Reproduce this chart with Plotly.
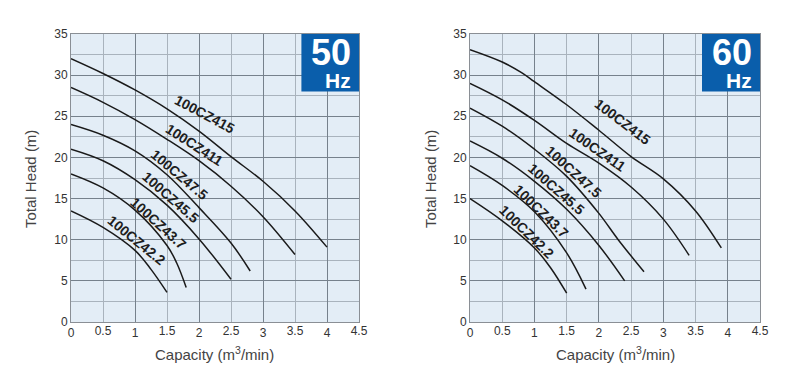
import math
import plotly.graph_objects as go

# ---------------- data ----------------
models = ["100CZ415", "100CZ411", "100CZ47.5", "100CZ45.5", "100CZ43.7", "100CZ42.2"]

# 50 Hz
q415_50 = [0, 0.5, 1, 1.5, 2, 2.5, 3, 3.5, 4]
h415_50 = [32, 30.2, 28.2, 25.9, 23.2, 20.1, 17.1, 13.5, 9.1]
q411_50 = [0, 0.5, 1, 1.5, 2, 2.5, 3, 3.5]
h411_50 = [28.5, 26.7, 24.6, 22.2, 19.6, 16.5, 12.8, 8.2]
q475_50 = [0, 0.5, 1, 1.5, 2, 2.5, 2.8]
h475_50 = [24, 22.7, 20.8, 17.9, 13.9, 9.6, 6.2]
q455_50 = [0, 0.5, 1, 1.5, 2, 2.5]
h455_50 = [21, 19.6, 17.3, 14.2, 10.1, 5.2]
q437_50 = [0, 0.5, 1, 1.5, 1.65, 1.8]
h437_50 = [18, 16.3, 13.6, 9.3, 7.2, 4.2]
q422_50 = [0, 0.5, 1, 1.25, 1.5]
h422_50 = [13.5, 11.5, 8.7, 6.4, 3.6]

# 60 Hz
q415_60 = [0, 0.5, 0.8, 1, 1.5, 2, 2.5, 3, 3.5, 3.9]
h415_60 = [33.1, 31.6, 30.3, 29.2, 26.4, 23.3, 20.1, 17.4, 13.5, 9.0]
q411_60 = [0, 0.5, 1, 1.5, 2, 2.5, 3, 3.4]
h411_60 = [29, 27, 24.5, 21.7, 19.3, 16.4, 12.5, 8.1]
q475_60 = [0, 0.5, 1, 1.5, 2, 2.3, 2.7]
h475_60 = [26, 23.8, 21, 17.7, 13.2, 10.0, 6.1]
q455_60 = [0, 0.5, 1, 1.5, 2, 2.4]
h455_60 = [22, 19.9, 17.1, 13.7, 9.3, 5.0]
q437_60 = [0, 0.5, 1, 1.5, 1.8]
h437_60 = [19, 16.6, 13.4, 8.4, 4.0]
q422_60 = [0, 0.5, 1, 1.25, 1.5]
h422_60 = [15, 12.3, 9.0, 6.6, 3.5]

x_major_ticks = [0, 1, 2, 3, 4]
x_half_ticks = [0.5, 1.5, 2.5, 3.5, 4.5]
x_label_text = ["0", "1", "2", "3", "4"]
x_half_text = ["0.5", "1.5", "2.5", "3.5", "4.5"]

curves_50 = [(q415_50, h415_50), (q411_50, h411_50), (q475_50, h475_50),
             (q455_50, h455_50), (q437_50, h437_50), (q422_50, h422_50)]
curves_60 = [(q415_60, h415_60), (q411_60, h411_60), (q475_60, h475_60),
             (q455_60, h455_60), (q437_60, h437_60), (q422_60, h422_60)]

# label placement (layout only)
lab_50 = [(2.05, 24.75, 28), (1.89, 21.0, 33), (1.65, 17.45, 40),
          (1.50, 14.7, 41), (1.31, 11.6, 42), (0.97, 9.5, 39)]
lab_60 = [(2.33, 23.85, 37), (1.94, 20.4, 35), (1.56, 17.8, 42),
          (1.29, 15.75, 41), (1.05, 13.1, 44), (0.83, 10.5, 44)]
LABEL_LIFT = 5  # px, perpendicular to the curve

FONT = "Liberation Sans, Arial, sans-serif"
BG = "#e3edf6"
GRID_DARK = "#76818c"
GRID_LIGHT = "#a9b3bd"
BLUE = "#0a5eab"

# page body has an 8px margin: the figure is sized/positioned to compensate
OFF = 8
FW, FH = 789 - OFF, 376 - OFF


def px(x):
    return (x - OFF) / FW


def py(y):
    return 1 - (y - OFF) / FH


fig = go.Figure()

for (q, h) in curves_50:
    fig.add_trace(go.Scatter(x=q, y=h, mode="lines", xaxis="x", yaxis="y",
                             line=dict(color="#1a1a1a", width=1.5, shape="spline", smoothing=1),
                             showlegend=False, hoverinfo="skip"))
for (q, h) in curves_60:
    fig.add_trace(go.Scatter(x=q, y=h, mode="lines", xaxis="x2", yaxis="y2",
                             line=dict(color="#1a1a1a", width=1.5, shape="spline", smoothing=1),
                             showlegend=False, hoverinfo="skip"))
# empty traces so the half-step label axes exist
fig.add_trace(go.Scatter(x=[None], y=[None], xaxis="x3", yaxis="y", showlegend=False, hoverinfo="skip"))
fig.add_trace(go.Scatter(x=[None], y=[None], xaxis="x4", yaxis="y2", showlegend=False, hoverinfo="skip"))

tickfont = dict(family=FONT, size=12, color="#333")


def xmain(domain, anchor):
    return dict(domain=domain, anchor=anchor, range=[0, 4.5], tickmode="array",
                tickvals=x_major_ticks, ticktext=x_label_text,
                showgrid=True, gridcolor=GRID_DARK, gridwidth=1,
                minor=dict(dtick=0.5, tick0=0, showgrid=True, gridcolor=GRID_LIGHT, gridwidth=1),
                zeroline=False, showline=True, linecolor="#8a8f95", linewidth=1, mirror=True,
                tickfont=tickfont, ticks="", fixedrange=True, automargin=False)


def xhalf(over, anchor):
    return dict(overlaying=over, anchor=anchor, range=[0, 4.5], tickmode="array",
                tickvals=x_half_ticks, ticktext=x_half_text, showgrid=False,
                zeroline=False, showline=False, tickfont=tickfont, ticks="", side="bottom",
                automargin=False)


def ymain(domain, anchor):
    return dict(domain=domain, anchor=anchor, range=[0, 35], dtick=5, tick0=0,
                showgrid=True, gridcolor=GRID_DARK, gridwidth=1,
                minor=dict(dtick=2.5, tick0=0, showgrid=True, gridcolor=GRID_LIGHT, gridwidth=1),
                zeroline=False, showline=True, linecolor="#8a8f95", linewidth=1, mirror=True,
                tickfont=tickfont, ticks="", fixedrange=True, automargin=False)


ydom = [py(322), py(34)]
fig.update_layout(
    width=FW, height=FH,
    margin=dict(l=0, r=0, t=0, b=0, pad=0, autoexpand=False),
    paper_bgcolor="white", plot_bgcolor=BG,
    xaxis=xmain([px(71), px(359)], "y"),
    yaxis=ymain(ydom, "x"),
    xaxis2=xmain([px(470), px(760)], "y2"),
    yaxis2=ymain(ydom, "x2"),
    xaxis3=xhalf("x", "y"),
    xaxis4=xhalf("x2", "y2"),
)

annotations = []
shapes = []
for xr, yr, labs, hz, ytx, cxp in [("x", "y", lab_50, "50", 30, 215), ("x2", "y2", lab_60, "60", 430, 615)]:
    for name, (lx, ly, ang) in zip(models, labs):
        a = math.radians(ang)
        annotations.append(dict(x=lx, y=ly, xref=xr, yref=yr, text="<b>" + name + "</b>",
                                textangle=ang, showarrow=False, xanchor="center", yanchor="middle",
                                xshift=LABEL_LIFT * math.sin(a), yshift=LABEL_LIFT * math.cos(a),
                                font=dict(family=FONT, size=14, color="#1e1e1e")))
    shapes.append(dict(type="rect", xref=xr + " domain", yref=yr + " domain",
                       x0=0.8, x1=1.0, y0=0.8, y1=1.0, fillcolor=BLUE, line=dict(width=0), layer="above"))
    annotations.append(dict(x=0.902, y=0.937, xref=xr + " domain", yref=yr + " domain",
                            text="<b>" + hz + "</b>", showarrow=False,
                            xanchor="center", yanchor="middle",
                            font=dict(family=FONT, size=36, color="white")))
    annotations.append(dict(x=0.927, y=0.838, xref=xr + " domain", yref=yr + " domain",
                            text="<b>Hz</b>", showarrow=False,
                            xanchor="center", yanchor="middle",
                            font=dict(family=FONT, size=21, color="white")))
    # axis titles
    annotations.append(dict(x=px(ytx), y=py(179), xref="paper", yref="paper",
                            text="Total Head (m)", textangle=-90, showarrow=False,
                            xanchor="center", yanchor="middle",
                            font=dict(family=FONT, size=15, color="#444")))
    annotations.append(dict(x=px(cxp), y=py(353), xref="paper", yref="paper",
                            text="Capacity (m<sup>3</sup>/min)", showarrow=False,
                            xanchor="center", yanchor="middle",
                            font=dict(family=FONT, size=15, color="#444")))

fig.update_layout(annotations=annotations, shapes=shapes)
fig.write_html("out.html")
